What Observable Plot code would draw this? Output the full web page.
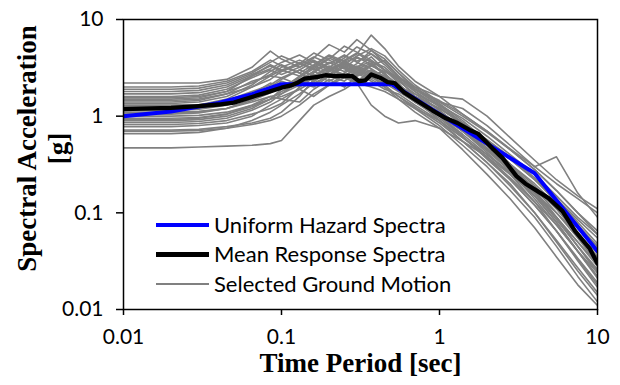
<!DOCTYPE html>
<html><head><meta charset="utf-8">
<script src="https://cdn.jsdelivr.net/npm/d3@7"></script>
<script src="https://cdn.jsdelivr.net/npm/@observablehq/plot@0.6"></script>
<style>body{margin:0;background:#fff} #chart{width:620px;height:385px}</style>
</head><body><div id="chart"></div>
<script>
// Periods (sec) at which the selected ground motions were read
const gmPeriods = [0.01,0.02,0.03,0.045,0.065,0.085,0.1,0.13,0.16,0.2,0.25,0.3,0.37,0.45,0.55,0.7,1,1.4,2,2.8,4,5.5,7.5,10];
// Spectral acceleration [g] of each selected ground motion
const gmSa = [
 [0.47,0.47,0.48,0.49,0.5,0.52,0.56,0.9,1.3,1.6,1.9,2.3,2.6,2.0,1.5,1.1,0.75,0.45,0.25,0.14,0.07,0.035,0.018,0.011],
 [0.66,0.66,0.68,0.75,0.9,1.1,1.3,1.7,2.2,2.6,2.3,2.9,3.4,2.8,2.0,1.5,0.9,0.55,0.33,0.2,0.1,0.05,0.025,0.014],
 [0.72,0.72,0.73,0.78,0.85,0.95,1.1,1.6,2.4,3.0,3.5,3.2,4.1,3.0,2.2,1.4,1.0,0.62,0.36,0.22,0.12,0.065,0.033,0.018],
 [0.78,0.78,0.8,0.85,1.0,1.3,1.5,1.9,1.6,2.1,2.7,2.2,1.3,1.0,0.85,0.9,0.75,0.55,0.38,0.25,0.15,0.08,0.04,0.022],
 [0.82,0.82,0.84,0.9,1.05,1.2,1.35,2.0,2.8,3.6,3.1,4.0,3.7,3.2,2.4,1.6,1.1,0.7,0.45,0.3,0.18,0.11,0.06,0.035],
 [0.86,0.86,0.88,0.95,1.15,1.4,1.7,2.3,2.9,2.5,3.3,2.8,2.3,1.9,1.7,1.3,0.9,0.6,0.38,0.23,0.13,0.075,0.04,0.024],
 [0.9,0.9,0.92,1.0,1.2,1.5,1.8,2.2,2.0,2.6,3.8,4.5,3.6,2.7,2.0,1.5,1.1,0.75,0.5,0.32,0.2,0.12,0.07,0.045],
 [0.95,0.95,0.97,1.05,1.3,1.6,1.5,1.4,1.9,2.4,2.0,2.6,3.0,2.5,2.1,1.6,1.2,0.85,0.55,0.36,0.22,0.14,0.085,0.055],
 [1.0,1.0,1.02,1.1,1.3,1.5,1.9,2.6,3.3,4.2,3.5,3.0,2.6,2.1,1.6,1.2,0.8,0.5,0.3,0.17,0.09,0.045,0.022,0.012],
 [1.05,1.05,1.08,1.2,1.5,1.9,2.3,2.0,2.5,3.2,4.0,5.2,4.4,3.6,2.6,1.8,1.15,0.7,0.42,0.25,0.13,0.065,0.032,0.017],
 [1.1,1.1,1.12,1.2,1.4,1.6,1.7,2.1,2.7,2.3,2.8,3.3,2.9,2.4,2.0,1.7,1.3,0.95,0.62,0.4,0.25,0.15,0.09,0.06],
 [1.15,1.15,1.18,1.3,1.6,2.0,2.4,3.0,3.7,3.2,2.6,3.1,3.5,2.7,2.1,1.5,1.0,0.65,0.4,0.26,0.16,0.1,0.06,0.038],
 [1.2,1.2,1.22,1.35,1.7,2.2,2.0,2.4,2.9,3.5,4.3,3.6,3.1,2.5,1.9,1.4,0.95,0.62,0.37,0.22,0.12,0.065,0.034,0.019],
 [1.25,1.25,1.3,1.5,2.0,2.6,2.5,2.1,2.6,3.3,2.9,3.5,4.8,3.9,2.8,1.9,1.3,0.85,0.55,0.36,0.22,0.13,0.075,0.045],
 [1.3,1.3,1.32,1.4,1.6,1.8,2.0,2.5,3.1,2.7,3.4,4.2,5.0,4.2,3.0,2.1,1.4,1.2,0.8,0.5,0.3,0.2,0.14,0.1],
 [1.35,1.35,1.4,1.6,2.1,2.9,3.4,2.8,2.3,2.9,3.6,3.0,2.5,2.2,1.8,1.4,1.0,0.7,0.45,0.3,0.18,0.1,0.055,0.03],
 [1.4,1.4,1.45,1.7,2.3,2.6,3.0,3.5,4.5,3.8,3.2,2.7,3.3,3.8,2.8,2.0,1.35,0.9,0.55,0.32,0.17,0.09,0.045,0.024],
 [1.45,1.45,1.5,1.7,2.0,2.4,2.9,3.6,3.1,3.9,5.3,4.6,3.8,3.0,2.3,1.7,1.15,0.75,0.47,0.29,0.16,0.09,0.05,0.028],
 [1.5,1.5,1.55,1.8,2.6,3.4,3.0,2.6,3.2,4.0,3.4,2.9,2.4,2.0,1.6,1.25,0.85,0.55,0.33,0.19,0.1,0.052,0.027,0.015],
 [1.55,1.55,1.6,1.8,2.2,2.7,3.2,3.8,3.3,2.9,3.7,4.4,6.9,5.0,3.3,2.3,1.6,1.05,0.7,0.45,0.28,0.17,0.1,0.065],
 [1.6,1.6,1.65,1.9,2.5,3.0,2.7,3.2,4.0,5.5,4.6,6.2,4.8,3.6,2.6,1.9,1.3,0.85,0.52,0.31,0.17,0.09,0.045,0.025],
 [1.7,1.7,1.75,2.0,2.6,3.1,3.6,4.3,3.6,3.0,2.6,3.2,2.8,2.3,1.9,1.5,1.1,0.78,0.5,0.32,0.19,0.11,0.06,0.035],
 [1.8,1.8,1.85,2.1,2.7,3.3,2.9,3.4,4.1,3.5,4.2,3.7,4.4,3.4,2.5,1.9,1.4,1.0,0.68,0.45,0.28,0.17,0.1,0.06],
 [1.9,1.9,1.95,2.2,2.8,3.6,4.2,3.5,3.0,3.6,3.1,2.6,3.0,2.6,2.0,1.5,1.05,0.72,0.45,0.28,0.15,0.08,0.04,0.021],
 [2.0,2.0,2.05,2.3,2.9,3.8,3.3,2.8,3.4,4.3,3.7,3.2,3.7,3.0,2.5,2.0,1.6,1.5,1.0,0.6,0.35,0.22,0.15,0.11],
 [2.2,2.2,2.2,2.4,3.2,4.7,3.9,3.2,3.8,3.1,3.6,4.1,3.4,2.7,2.1,1.6,1.2,0.85,0.57,0.38,0.23,0.14,0.08,0.048],
 [0.92,0.92,0.95,1.05,1.25,1.5,1.6,1.9,2.3,2.9,3.6,3.1,2.7,2.9,2.5,1.9,1.45,1.05,0.7,0.46,0.3,0.38,0.16,0.09],
 [1.08,1.08,1.1,1.2,1.45,1.75,2.0,2.4,2.1,2.7,3.2,2.8,3.3,2.9,2.4,1.8,1.25,0.8,0.5,0.3,0.16,0.085,0.045,0.026],
 [0.7,0.7,0.71,0.75,0.82,0.9,1.0,1.3,1.7,2.1,2.5,2.2,2.0,1.8,1.5,1.2,0.9,0.6,0.4,0.26,0.15,0.09,0.05,0.03],
 [1.28,1.28,1.3,1.45,1.8,2.1,2.5,3.0,2.6,3.1,2.7,2.3,2.9,2.4,1.9,1.45,1.05,0.7,0.44,0.27,0.14,0.075,0.04,0.022]
];
// Uniform Hazard Spectra
const uhsPeriods = [0.01,0.02,0.04,0.065,0.1,0.5,1,2,4,10];
const uhsSa = [1.0,1.12,1.37,1.69,2.14,2.14,1.05,0.52,0.257,0.040];
// Mean Response Spectra
const meanPeriods = [0.01,0.02,0.03,0.04,0.05,0.065,0.08,0.1,0.115,0.125,0.14,0.17,0.19,0.22,0.26,0.28,0.31,0.34,0.37,0.42,0.47,0.52,0.6,0.72,0.9,1.1,1.3,1.55,1.75,2.0,2.2,2.5,3.07,3.5,4.0,4.9,6.0,7.2,8.9,10];
const meanSa = [1.18,1.22,1.27,1.32,1.38,1.58,1.75,1.97,2.08,2.2,2.45,2.55,2.65,2.6,2.62,2.6,2.3,2.35,2.7,2.5,2.25,2.2,1.75,1.45,1.15,0.95,0.85,0.72,0.66,0.53,0.45,0.37,0.24,0.2,0.175,0.142,0.104,0.065,0.043,0.030];

const xTicks = [0.01,0.1,1,10];
const xTickLabels = ["0.01","0.1","1","10"];
const yTicks = [0.01,0.1,1,10];
const yTickLabels = ["0.01","0.1","1","10"];
const legendLabels = ["Uniform Hazard Spectra","Mean Response Spectra","Selected Ground Motion"];
const legendColors = ["#0000ff","#000000","#808080"];
const legendWidths = [4,5,2];
const xTitle = "Time Period [sec]";
const yTitle = ["Spectral Acceleration","[g]"];

const gmRows = gmSa.flatMap((vals, i) => vals.map((v, j) => ({id: i, T: gmPeriods[j], Sa: v})));
const uhsRows = uhsPeriods.map((T, i) => ({T, Sa: uhsSa[i]}));
const meanRows = meanPeriods.map((T, i) => ({T, Sa: meanSa[i]}));

const serif = "'Liberation Serif', 'DejaVu Serif', serif";
const chart = Plot.plot({
  width: 620, height: 385,
  marginLeft: 123, marginRight: 23, marginTop: 19, marginBottom: 76,
  style: {fontFamily: "Lato, 'Open Sans', sans-serif", background: "white", color: "#000", overflow: "visible"},
  x: {type: "log", domain: [0.01, 10]},
  y: {type: "log", domain: [0.01, 10]},
  marks: [
    Plot.line(gmRows, {x: "T", y: "Sa", z: "id", stroke: "#808080", strokeWidth: 1.6, clip: true}),
    Plot.line(uhsRows, {x: "T", y: "Sa", stroke: "#0000ff", strokeWidth: 4, clip: true}),
    Plot.line(meanRows, {x: "T", y: "Sa", stroke: "#000", strokeWidth: 4.3, strokeLinejoin: "round", clip: true}),
    Plot.frame({stroke: "#000", strokeWidth: 1.5}),
    Plot.axisX({ticks: xTicks, tickFormat: d => xTickLabels[xTicks.indexOf(d)], tickSize: 6, tickPadding: 14, fontSize: 21, label: null, strokeWidth: 1.5}),
    Plot.axisY({ticks: yTicks, tickFormat: d => yTickLabels[yTicks.indexOf(d)], tickSize: 7, tickPadding: 13, fontSize: 21, label: null, strokeWidth: 1.5}),
    Plot.text([xTitle], {frameAnchor: "bottom", dy: 62, fontFamily: serif, fontWeight: "bold", fontSize: 27, fill: "#000"}),
    Plot.text([yTitle.join("\n")], {frameAnchor: "left", textAnchor: "middle", rotate: -90, dx: -82, dy: -16, lineHeight: 1.15, fontFamily: serif, fontWeight: "bold", fontSize: 27, fill: "#000"})
  ]
});

// legend inside the plot (lower left)
const svg = d3.select(chart);
const lg = svg.append("g").attr("font-family", "Lato, 'Open Sans', sans-serif").attr("font-size", 22).attr("text-anchor", "start");
legendLabels.forEach((lab, i) => {
  const y = 225 + i * 29.5;
  lg.append("line").attr("x1", 156).attr("x2", 209).attr("y1", y).attr("y2", y)
    .attr("stroke", legendColors[i]).attr("stroke-width", legendWidths[i]);
  lg.append("text").attr("x", 214).attr("y", y).attr("dy", "0.35em").attr("fill", "#000").text(lab);
});
document.getElementById("chart").appendChild(chart);
</script>
</body></html>
